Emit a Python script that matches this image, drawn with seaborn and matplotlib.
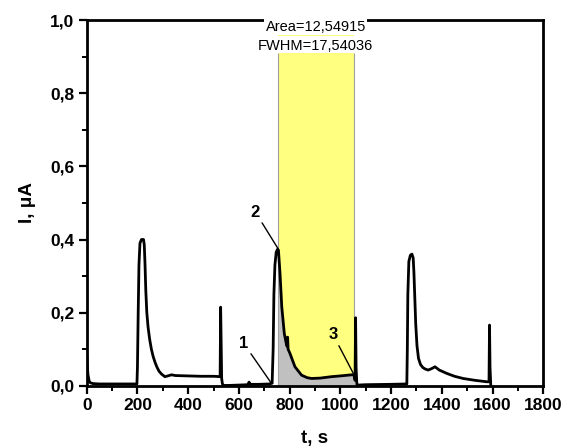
import matplotlib
matplotlib.use("Agg")
import matplotlib.pyplot as plt
from matplotlib.ticker import MultipleLocator, FuncFormatter
import numpy as np
import pandas as pd
import seaborn as sns

# Current transient, time in s and current in uA
t_s = [0, 2, 5, 10, 15, 25, 50, 100, 150, 198,
       200, 203, 206, 210, 216, 224, 227, 230, 233, 237, 242, 248, 255, 262, 270, 277,
       285, 295, 308, 320, 334, 350, 400, 450, 500, 526,
       528, 530, 532, 535, 540, 560, 600, 635, 640, 645, 680, 720, 731,
       735, 738, 742, 747, 752, 756, 762, 769, 779, 786, 790, 792, 794,
       801, 821, 847, 870, 887, 920, 966, 1000, 1044, 1051, 1055, 1058,
       1060, 1062, 1065, 1070, 1100, 1200, 1262,
       1264, 1266, 1270, 1276, 1282, 1287, 1290, 1293, 1297, 1302, 1308, 1316,
       1325, 1334, 1346, 1360, 1373, 1390, 1419, 1450, 1484, 1530, 1577, 1586,
       1588, 1590, 1593]
i_uA = [0.09, 0.06, 0.03, 0.012, 0.008, 0.006, 0.005, 0.005, 0.005, 0.005,
        0.05, 0.2, 0.33, 0.39, 0.40, 0.40, 0.385, 0.33, 0.26, 0.20, 0.16, 0.128, 0.10, 0.08, 0.063, 0.051,
        0.04, 0.032, 0.025, 0.027, 0.030, 0.028, 0.027, 0.026, 0.026, 0.025,
        0.215, 0.12, 0.02, 0.005, 0.001, 0.001, 0.002, 0.003, 0.01, 0.004, 0.004, 0.005, 0.007,
        0.1, 0.25, 0.33, 0.365, 0.373, 0.37, 0.308, 0.216, 0.143, 0.118, 0.108, 0.133, 0.10,
        0.089, 0.052, 0.029, 0.022, 0.02, 0.021, 0.025, 0.027, 0.03, 0.03, 0.026, 0.015,
        0.186, 0.05, 0.003, 0.002, 0.003, 0.004, 0.005,
        0.1, 0.25, 0.34, 0.357, 0.36, 0.35, 0.31, 0.25, 0.17, 0.11, 0.075, 0.058,
        0.05, 0.046, 0.043, 0.047, 0.052, 0.043, 0.034, 0.026, 0.02, 0.015, 0.011, 0.011,
        0.166, 0.05, 0.0]

df = pd.DataFrame({"t": t_s, "I": i_uA})

# Integration window and peak statistics
win_start, win_end = 755, 1055
win_top = 0.909
fwhm_line = 0.959
area_text = "Area=12,54915"
fwhm_text = "FWHM=17,54036"

sns.set_style("ticks", {"axes.edgecolor": "black", "xtick.color": "black",
                        "ytick.color": "black", "text.color": "black",
                        "axes.labelcolor": "black"})
plt.rcParams["font.family"] = ["Liberation Sans", "DejaVu Sans"]

fig = plt.figure(figsize=(5.63, 4.46), dpi=100)
ax = fig.add_axes([0.154, 0.135, 0.811, 0.820])

# Highlighted integration window and the area under the curve inside it
ax.fill_between([win_start, win_end], 0, win_top, color="#ffff80",
                edgecolor="none", zorder=1)
ax.vlines([win_start, win_end], 0, win_top, color="#a0a0a0", lw=0.8, zorder=1.5)
ax.hlines(fwhm_line, win_start, win_end, color="#ffff80", lw=1.5, zorder=1)
sel = df[(df.t >= win_start) & (df.t <= win_end)]
ax.fill_between(sel.t, 0, sel.I, color="#c0c0c0", zorder=2, lw=0)

sns.lineplot(data=df, x="t", y="I", ax=ax, color="black", lw=2.0,
             zorder=3, estimator=None, sort=False)

ax.set_xlim(0, 1800)
ax.set_ylim(0, 1.0)
ax.xaxis.set_major_locator(MultipleLocator(200))
ax.xaxis.set_minor_locator(MultipleLocator(100))
ax.yaxis.set_major_locator(MultipleLocator(0.2))
ax.yaxis.set_minor_locator(MultipleLocator(0.1))
ax.yaxis.set_major_formatter(FuncFormatter(lambda v, p: f"{v:.1f}".replace(".", ",")))
ax.tick_params(which="major", direction="out", length=6, width=1.6,
               labelsize=12.5, pad=3, color="black", labelcolor="black")
ax.tick_params(which="minor", direction="out", length=3.5, width=1.4,
               color="black")
for lab in ax.get_xticklabels() + ax.get_yticklabels():
    lab.set_fontweight("bold")
for sp in ax.spines.values():
    sp.set_visible(True)
    sp.set_linewidth(2.0)
    sp.set_color("black")

ax.set_xlabel("t, s", fontsize=13.5, fontweight="bold", labelpad=12)
ax.set_ylabel("I, μA", fontsize=13.5, fontweight="bold", labelpad=10)

# Peak statistics above the window
ax.text(903, 0.982, area_text, ha="center", va="center", fontsize=10.5,
        zorder=10, clip_on=False,
        bbox=dict(facecolor="white", edgecolor="none", pad=1.0))
ax.text(903, 0.929, fwhm_text, ha="center", va="center", fontsize=10.5,
        zorder=10, clip_on=False)

# Numbered points on the transient
arrow = dict(arrowstyle="-", color="black", lw=1.0, shrinkA=0, shrinkB=0)
ax.annotate("1", xy=(727, 0.008), xytext=(618, 0.117), fontsize=12,
            fontweight="bold", ha="center", va="center", arrowprops=arrow,
            zorder=5)
ax.annotate("2", xy=(757, 0.372), xytext=(665, 0.475), fontsize=12,
            fontweight="bold", ha="center", va="center", arrowprops=arrow,
            zorder=5)
ax.annotate("3", xy=(1051, 0.034), xytext=(972, 0.139), fontsize=12,
            fontweight="bold", ha="center", va="center", arrowprops=arrow,
            zorder=5)

fig.savefig("out.png", dpi=100, facecolor="white")
